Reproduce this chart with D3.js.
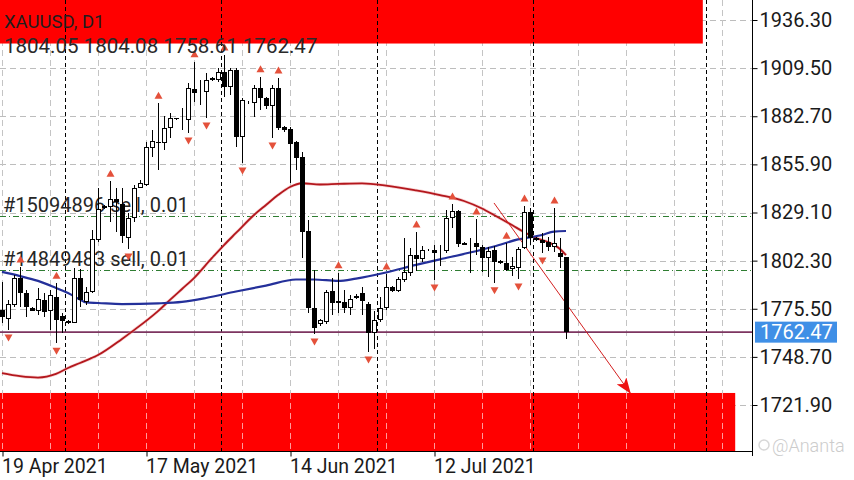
<!DOCTYPE html>
<html><head><meta charset="utf-8">
<script src="https://cdn.jsdelivr.net/npm/d3@7"></script>
<style>
html,body{margin:0;padding:0;background:#fff;}
svg{display:block;font-family:Roboto,"Noto Sans",sans-serif;}
</style></head><body>
<svg id="chart" width="854" height="480"></svg>
<script>
const symbolTitle = "XAUUSD, D1";
const dates = ["2021-04-19","2021-04-20","2021-04-21","2021-04-22","2021-04-23","2021-04-25","2021-04-26","2021-04-27","2021-04-28","2021-04-29","2021-04-30","2021-05-02","2021-05-03","2021-05-04","2021-05-05","2021-05-06","2021-05-07","2021-05-09","2021-05-10","2021-05-11","2021-05-12","2021-05-13","2021-05-14","2021-05-16","2021-05-17","2021-05-18","2021-05-19","2021-05-20","2021-05-21","2021-05-23","2021-05-24","2021-05-25","2021-05-26","2021-05-27","2021-05-28","2021-05-30","2021-05-31","2021-06-01","2021-06-02","2021-06-03","2021-06-04","2021-06-06","2021-06-07","2021-06-08","2021-06-09","2021-06-10","2021-06-11","2021-06-13","2021-06-14","2021-06-15","2021-06-16","2021-06-17","2021-06-18","2021-06-20","2021-06-21","2021-06-22","2021-06-23","2021-06-24","2021-06-25","2021-06-27","2021-06-28","2021-06-29","2021-06-30","2021-07-01","2021-07-02","2021-07-04","2021-07-05","2021-07-06","2021-07-07","2021-07-08","2021-07-09","2021-07-11","2021-07-12","2021-07-13","2021-07-14","2021-07-15","2021-07-16","2021-07-18","2021-07-19","2021-07-20","2021-07-21","2021-07-22","2021-07-23","2021-07-25","2021-07-26","2021-07-27","2021-07-28","2021-07-29","2021-07-30","2021-08-01","2021-08-02","2021-08-03","2021-08-04","2021-08-05","2021-08-06"];
const opens = [1774.7,1769.8,1777.6,1792.5,1784.1,1775.7,1774.4,1780.4,1774.4,1782.2,1771.6,1768.5,1767.7,1792.5,1779.5,1785.0,1814.0,1831.5,1832.0,1836.5,1834.0,1815.0,1826.3,1843.0,1844.4,1865.0,1868.5,1868.0,1876.0,1881.5,1880.5,1880.6,1898.0,1896.0,1896.0,1904.0,1903.0,1907.3,1899.0,1908.5,1871.1,1890.0,1890.0,1898.4,1893.0,1888.6,1898.4,1876.6,1875.6,1868.4,1860.0,1818.8,1775.9,1767.0,1768.1,1785.4,1779.8,1779.2,1775.9,1781.5,1784.5,1778.1,1762.0,1769.2,1776.1,1787.6,1785.4,1791.5,1795.4,1805.4,1803.2,1808.2,1808.0,1807.0,1807.7,1826.0,1830.0,1812.2,1811.5,1812.3,1810.0,1803.6,1808.0,1802.3,1800.8,1797.5,1798.0,1809.2,1829.6,1815.0,1814.0,1812.8,1810.0,1806.7,1804.05];
const highs = [1790.6,1780.4,1794.3,1798.7,1786.0,1776.5,1787.0,1784.4,1786.0,1789.7,1773.0,1769.0,1798.0,1797.5,1787.8,1819.4,1843.0,1833.0,1846.5,1843.0,1843.0,1829.0,1844.4,1847.0,1868.4,1875.0,1890.0,1883.0,1884.5,1882.0,1887.3,1901.2,1913.0,1903.0,1906.8,1904.5,1909.5,1916.8,1909.6,1909.8,1892.9,1891.0,1900.1,1904.7,1893.6,1900.1,1904.0,1877.5,1876.7,1869.0,1862.8,1825.0,1797.1,1770.0,1786.0,1792.5,1795.5,1786.0,1783.2,1783.5,1787.6,1779.3,1774.3,1782.0,1794.9,1788.0,1793.2,1815.0,1809.3,1818.2,1810.4,1809.0,1811.0,1811.0,1830.5,1833.8,1830.5,1812.5,1814.9,1825.5,1811.0,1810.0,1810.4,1802.8,1812.0,1804.5,1810.0,1832.7,1831.6,1815.5,1817.6,1815.5,1831.6,1815.0,1804.08];
const lows = [1767.4,1763.7,1776.6,1776.6,1771.0,1774.0,1772.0,1771.0,1763.7,1756.3,1762.0,1767.0,1767.4,1776.6,1777.6,1784.4,1812.9,1831.0,1823.8,1818.3,1812.0,1808.8,1823.8,1842.5,1843.9,1860.0,1852.8,1864.0,1870.6,1880.5,1875.0,1873.4,1890.8,1889.0,1881.7,1902.5,1901.8,1893.4,1894.5,1865.6,1856.7,1889.5,1882.3,1886.2,1887.0,1870.6,1875.0,1874.0,1845.5,1852.8,1803.8,1773.1,1761.4,1766.0,1767.0,1772.0,1773.3,1773.1,1772.0,1781.0,1772.0,1751.4,1753.0,1768.0,1774.8,1785.0,1784.8,1790.4,1793.7,1796.5,1801.5,1807.5,1791.5,1799.3,1806.5,1820.5,1809.9,1810.8,1795.4,1805.4,1796.0,1793.2,1790.0,1800.5,1796.5,1794.0,1792.0,1808.8,1811.0,1813.5,1806.5,1807.5,1807.3,1798.2,1758.61];
const closes = [1771.0,1778.1,1792.5,1784.1,1776.3,1774.4,1781.0,1773.9,1783.2,1769.2,1768.8,1767.8,1792.5,1780.4,1785.0,1814.2,1831.0,1832.5,1836.5,1835.0,1816.0,1826.0,1842.7,1845.5,1865.6,1869.0,1868.0,1876.0,1881.7,1881.0,1881.0,1898.4,1895.6,1896.5,1902.9,1903.0,1907.3,1899.0,1908.5,1871.1,1891.7,1890.3,1898.4,1892.9,1888.6,1898.4,1876.2,1875.0,1867.2,1859.5,1818.3,1775.9,1764.8,1769.2,1784.8,1778.7,1778.9,1775.9,1780.9,1782.8,1780.0,1762.0,1769.2,1776.1,1787.6,1785.4,1792.0,1796.0,1805.4,1803.2,1808.2,1808.5,1806.5,1807.5,1826.0,1830.0,1811.6,1811.0,1812.0,1810.0,1803.8,1807.8,1801.7,1800.8,1797.1,1799.3,1808.6,1829.6,1814.7,1813.8,1812.1,1810.0,1812.3,1804.2,1762.47];
const fractalUp = [3,9,18,26,32,37,43,46,56,64,69,75,79,84,87,92];
const fractalDown = [1,9,21,31,34,40,45,52,61,72,82,86,90];
const maBlue = [[0,1796.0],[3,1793.7],[6,1791.0],[9,1787.1],[11,1784.3],[13,1780.6],[14,1779.0],[16,1778.7],[20,1778.1],[26,1778.5],[30,1779.3],[34,1781.5],[39,1785.1],[44,1788.4],[49,1791.8],[52,1791.8],[56,1791.0],[59,1792.3],[64,1795.7],[69,1799.9],[73,1803.0],[78,1806.8],[82,1810.2],[86,1814.1],[90,1816.6],[92,1818.5],[94,1818.8]];
const maRed = [[0,1739.7],[3,1738.0],[6,1737.2],[9,1739.2],[11,1742.5],[13,1745.3],[16,1749.7],[20,1758.7],[22,1763.6],[26,1774.2],[28,1780.4],[30,1786.5],[32,1792.6],[35,1803.8],[37,1811.0],[39,1817.7],[42,1827.7],[44,1833.3],[46,1838.8],[48,1843.3],[50,1845.4],[53,1844.7],[56,1845.0],[60,1845.3],[64,1844.1],[69,1841.4],[73,1838.8],[77,1835.5],[80,1831.3],[82,1827.7],[85,1822.1],[87,1818.2],[89,1814.9],[91,1812.7],[93,1808.8],[94,1805.4]];
const priceTicks = [1936.30,1909.50,1882.70,1855.90,1829.10,1802.30,1775.50,1748.70,1721.90];
const dateTicks = ["2021-04-19","2021-05-17","2021-06-14","2021-07-12"];
const dateTickLabels = ["19 Apr 2021","17 May 2021","14 Jun 2021","12 Jul 2021"];
const monthStarts = ["2021-05-02","2021-06-01","2021-07-01","2021-08-01"];
const orderLabels = ["#15094896 sell, 0.01","#14849483 sell, 0.01"];
const orderPrices = [1826.9,1796.9];
const zoneFrom = [-1,-1], zoneTo = [116.8,122.2], zoneLow = [1923.2,1690], zoneHigh = [1960,1728.6];
const arrowPts = [[82,1834.4],[104.7,1728.6]];
const markerLines = [117.3];
const watermark = "@Ananta";

const PR = 752, PB = 451;
const x = d3.scaleLinear().domain([0,125]).range([2,752]);
const y = d3.scaleLinear().domain([1721.9,1936.3]).range([405,20]);
const svg = d3.select("#chart");
const defs = svg.append("defs");
defs.append("clipPath").attr("id","clip").append("rect").attr("x",0).attr("y",0).attr("width",PR).attr("height",PB);
defs.append("marker").attr("id","ah").attr("markerUnits","userSpaceOnUse")
  .attr("viewBox","0 0 16 12").attr("refX",15).attr("refY",6).attr("markerWidth",16).attr("markerHeight",12).attr("orient","auto")
  .append("path").attr("d","M0,0 L16,6 L0,12 L4,6 Z").attr("fill","#ee1111");

const g = svg.append("g").attr("clip-path","url(#clip)");

// grid
g.selectAll("line.hg").data(priceTicks).join("line").attr("class","hg")
  .attr("x1",0).attr("x2",PR).attr("y1",d=>Math.round(y(d))+0.5).attr("y2",d=>Math.round(y(d))+0.5)
  .attr("stroke","#bdbdbd").attr("stroke-dasharray","6,4");
const gridIdx = d3.range(0,126,8);
g.selectAll("line.vg").data(gridIdx).join("line").attr("class","vg")
  .attr("x1",d=>x(d)+0.5).attr("x2",d=>x(d)+0.5).attr("y1",0).attr("y2",PB)
  .attr("stroke","#c4c4c4").attr("stroke-dasharray","6,4");

// zones
const zones = zoneFrom.map((f,k)=>({f, t:zoneTo[k], lo:zoneLow[k], hi:zoneHigh[k]}));
g.selectAll("rect.zone").data(zones).join("rect").attr("class","zone")
  .attr("x",d=>x(d.f)).attr("width",d=>x(d.t)-x(d.f))
  .attr("y",d=>y(d.hi)).attr("height",d=>y(d.lo)-y(d.hi)).attr("fill","#ff0000");
// faint grid visible on zones
g.selectAll("line.vz").data(gridIdx).join("line").attr("class","vz")
  .attr("x1",d=>x(d)+0.5).attr("x2",d=>x(d)+0.5).attr("y1",y(zoneHigh[1])).attr("y2",PB)
  .attr("stroke","#ff9a9a").attr("stroke-dasharray","6,4");

// month separators
const sepIdx = monthStarts.map(s=>dates.indexOf(s)-0.5).concat(markerLines);
g.selectAll("line.sep").data(sepIdx).join("line").attr("class","sep")
  .attr("x1",d=>Math.round(x(d))+0.5).attr("x2",d=>Math.round(x(d))+0.5).attr("y1",0).attr("y2",PB)
  .attr("stroke","#000").attr("stroke-dasharray","4,3");

// order lines
g.selectAll("line.ord").data(orderPrices).join("line").attr("class","ord")
  .attr("x1",0).attr("x2",PR).attr("y1",d=>Math.round(y(d))+0.5).attr("y2",d=>Math.round(y(d))+0.5)
  .attr("stroke","#2f7d32").attr("stroke-dasharray","6,3,1,3");
g.selectAll("text.ord").data(orderLabels).join("text").attr("class","ord")
  .attr("x",3).attr("y",(d,k)=>y(orderPrices[k])-4.5).attr("font-size",20).attr("fill","#262626").text(d=>d);

// last price line
const lastI = dates.length-1;
const lastClose = closes[lastI];
g.append("line").attr("x1",0).attr("x2",PR).attr("y1",y(lastClose)).attr("y2",y(lastClose))
  .attr("stroke","#7d3560").attr("stroke-width",1.6);

// header texts
svg.append("text").attr("x",4).attr("y",28).attr("font-size",18.5).attr("fill","#1e1e1e").text(symbolTitle);
svg.append("text").attr("x",4).attr("y",53).attr("font-size",20.5).attr("fill","#2a2a2a")
  .text([opens[lastI],highs[lastI],lows[lastI],closes[lastI]].map(d3.format(".2f")).join(" "));

// moving averages
const line = d3.line().x(d=>x(d[0])).y(d=>y(d[1])).curve(d3.curveMonotoneX);
g.append("path").datum(maRed).attr("d",line).attr("fill","none").attr("stroke","#f0a0a0").attr("stroke-width",3.2).attr("opacity",0.45);
g.append("path").datum(maRed).attr("d",line).attr("fill","none").attr("stroke","#b3171d").attr("stroke-width",1.8);
g.append("path").datum(maBlue).attr("d",line).attr("fill","none").attr("stroke","#24309a").attr("stroke-width",2.2);

// arrow
g.append("line").attr("x1",x(arrowPts[0][0])).attr("y1",y(arrowPts[0][1])).attr("x2",x(arrowPts[1][0])).attr("y2",y(arrowPts[1][1]))
  .attr("stroke","#d42020").attr("stroke-width",1).attr("marker-end","url(#ah)");

// candles
const bars = dates.map((d,i)=>({i,o:opens[i],h:highs[i],l:lows[i],c:closes[i]}));
const cg = g.append("g");
cg.selectAll("line.wick").data(bars).join("line").attr("class","wick")
  .attr("x1",d=>x(d.i)+0.5).attr("x2",d=>x(d.i)+0.5).attr("y1",d=>Math.round(y(d.h))).attr("y2",d=>Math.round(y(d.l)))
  .attr("stroke","#000").attr("stroke-width",1);
cg.selectAll("rect.body").data(bars).join("rect").attr("class","body")
  .each(function(d){
    const top = Math.round(y(Math.max(d.o,d.c))), bot = Math.round(y(Math.min(d.o,d.c)));
    const s = d3.select(this);
    if (d.c >= d.o) {
      s.attr("x",x(d.i)-1.5).attr("width",4).attr("y",top+0.5).attr("height",Math.max(bot-top-1,0))
       .attr("fill","#fff").attr("stroke","#000").attr("stroke-width",1);
    } else {
      s.attr("x",x(d.i)-2).attr("width",5).attr("y",top).attr("height",Math.max(bot-top,1)).attr("fill","#000");
    }
  });

// fractals
const fc = "#e4513b";
g.selectAll("path.fu").data(fractalUp).join("path").attr("class","fu")
  .attr("d",i=>{const cx=x(i)+0.5, cy=y(highs[i])-8; return `M${cx-4},${cy+3.5}L${cx+4},${cy+3.5}L${cx},${cy-3.5}Z`;}).attr("fill",fc);
g.selectAll("path.fd").data(fractalDown).join("path").attr("class","fd")
  .attr("d",i=>{const cx=x(i)+0.5, cy=y(lows[i])+8; return `M${cx-4},${cy-3.5}L${cx+4},${cy-3.5}L${cx},${cy+3.5}Z`;}).attr("fill",fc);

// axes
const yAxis = d3.axisRight(y).tickValues(priceTicks).tickSize(5).tickPadding(2).tickFormat(d3.format(".2f"));
const ya = svg.append("g").attr("transform",`translate(${PR+0.5},0)`).call(yAxis);
ya.select(".domain").remove();
ya.selectAll("line").attr("stroke","#000");
ya.selectAll("text").attr("font-size",20).attr("fill","#1a1a1a").attr("font-family","Roboto");
svg.append("line").attr("x1",PR+0.5).attr("x2",PR+0.5).attr("y1",0).attr("y2",PB+5).attr("stroke","#000");

const xAxis = d3.axisBottom(x).tickValues(dateTicks.map(s=>dates.indexOf(s))).tickSize(5).tickPadding(3)
  .tickFormat((d,k)=>dateTickLabels[k]);
const xa = svg.append("g").attr("transform",`translate(0.5,${PB+0.5})`).call(xAxis);
xa.select(".domain").remove();
xa.selectAll("line").attr("stroke","#000");
xa.selectAll("text").attr("font-size",19.5).attr("fill","#1a1a1a").attr("text-anchor","start").attr("x",-1).attr("font-family","Roboto");
svg.append("line").attr("x1",0).attr("x2",PR+1).attr("y1",PB+0.5).attr("y2",PB+0.5).attr("stroke","#000");

// last price label
const ly = y(lastClose);
svg.append("rect").attr("x",PR+3).attr("y",ly-10.5).attr("width",82).attr("height",21).attr("fill","#3f8fe6");
svg.append("text").attr("x",PR+8).attr("y",ly).attr("dy","0.36em").attr("font-size",20).attr("fill","#fff").text(d3.format(".2f")(lastClose));

// watermark
svg.append("circle").attr("cx",764).attr("cy",445).attr("r",5).attr("fill","none").attr("stroke","#d8d8d8").attr("stroke-width",1.5);
svg.append("text").attr("x",772).attr("y",452).attr("font-size",18).attr("fill","#cccccc").attr("font-weight",300).text(watermark);
</script>
</body></html>
